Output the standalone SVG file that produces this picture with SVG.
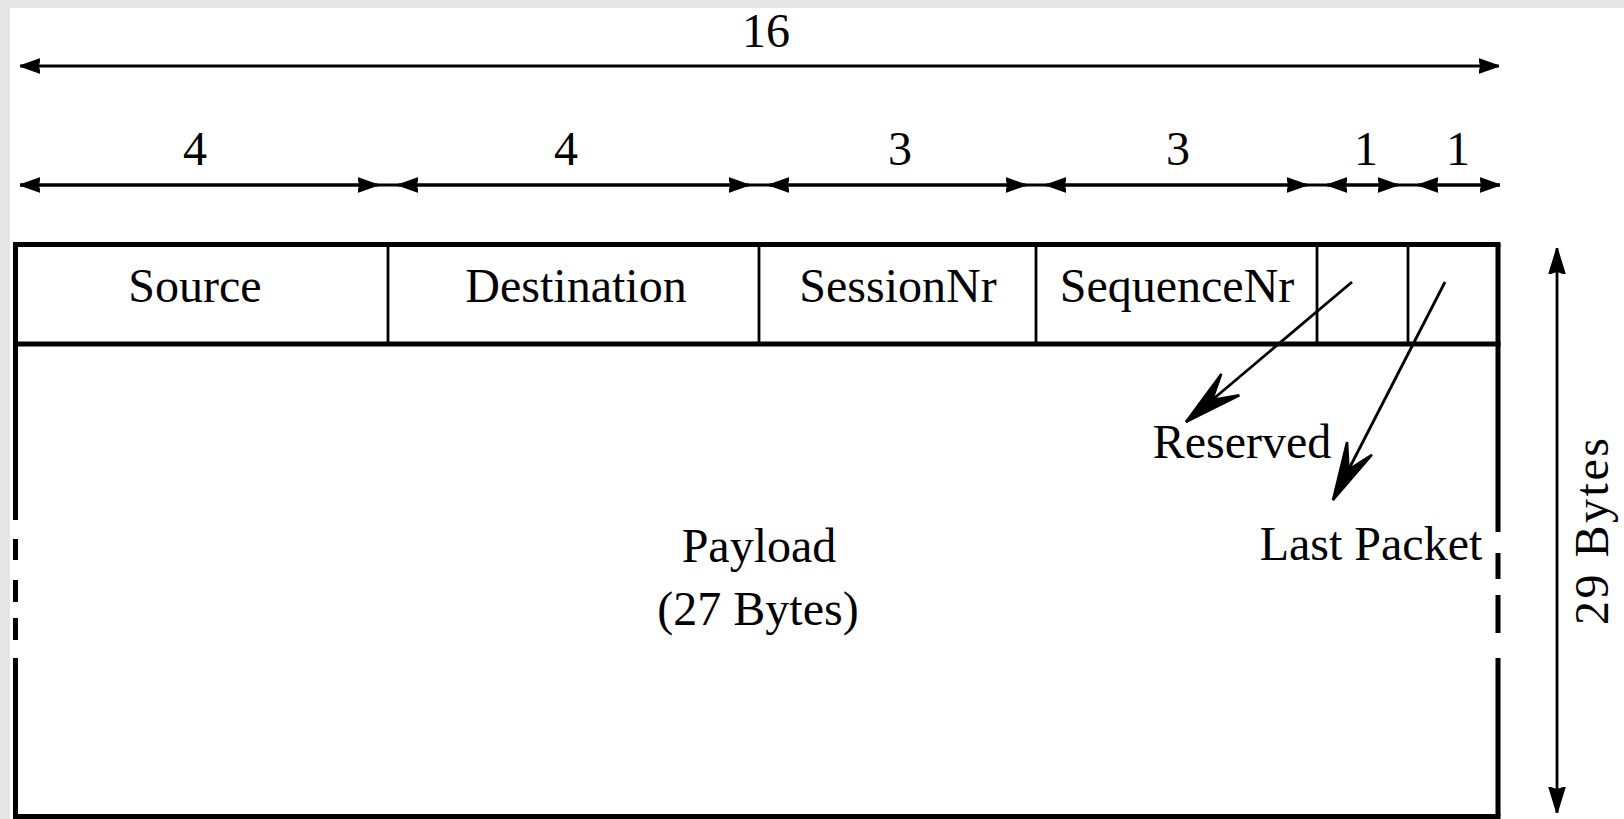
<svg xmlns="http://www.w3.org/2000/svg" width="1624" height="819" viewBox="0 0 1624 819">
  <style>
    .t { font-family: "Liberation Serif", "Times New Roman", serif; font-size: 48px; fill: #000; text-anchor: middle; }
    .thin { stroke: #000; stroke-width: 2.8; fill: none; }
    .thick { stroke: #000; stroke-width: 5; fill: none; stroke-linecap: square; }
    .dim { stroke: #000; stroke-width: 2.8; fill: none; marker-start: url(#ah); marker-end: url(#ah); }
  </style>
  <defs>
    <!-- small filled head used on dimension lines -->
    <marker id="ah" viewBox="0 0 20 16" refX="20" refY="8" markerWidth="20" markerHeight="16" markerUnits="userSpaceOnUse" orient="auto-start-reverse">
      <path d="M0,1 L20,8 L0,15 L2,8 z" fill="#000" stroke="#000" stroke-width="1.5" stroke-linejoin="round"/>
    </marker>
    <!-- head for the vertical size arrow -->
    <marker id="vh" viewBox="0 0 26 18" refX="26" refY="9" markerWidth="26" markerHeight="18" markerUnits="userSpaceOnUse" orient="auto-start-reverse">
      <path d="M0,1 L26,9 L0,17 L3,9 z" fill="#000" stroke="#000" stroke-width="1.5" stroke-linejoin="round"/>
    </marker>
    <!-- long notched head for the flag pointers -->
    <marker id="dart" viewBox="-2 -2 62 32" refX="58" refY="14" markerWidth="62" markerHeight="32" markerUnits="userSpaceOnUse" orient="auto">
      <path d="M0,0 L58,14 L0,28 L24,14 z" fill="#000" stroke="#000" stroke-width="2.5" stroke-linejoin="miter"/>
    </marker>
  </defs>

  <!-- page -->
  <rect x="0" y="0" width="1624" height="819" fill="#fff"/>
  <rect x="0" y="0" width="10" height="819" fill="#e5e5e5"/>
  <rect x="0" y="0" width="1624" height="8" fill="#e5e5e5"/>

  <!-- total width dimension -->
  <g id="dim-total">
    <line class="dim" x1="20" y1="66" x2="1499" y2="66"/>
    <text class="t" x="766" y="47">16</text>
  </g>

  <!-- per-field dimensions -->
  <g id="dim-fields">
    <line class="thin" x1="20" y1="185" x2="1500" y2="185"/>
    <line class="dim" x1="20" y1="185" x2="378" y2="185"/>
    <line class="dim" x1="398" y1="185" x2="749" y2="185"/>
    <line class="dim" x1="769" y1="185" x2="1026" y2="185"/>
    <line class="dim" x1="1046" y1="185" x2="1307" y2="185"/>
    <line class="dim" x1="1327" y1="185" x2="1398" y2="185"/>
    <line class="dim" x1="1418" y1="185" x2="1500" y2="185"/>
    <text class="t" x="195" y="165">4</text>
    <text class="t" x="566" y="165">4</text>
    <text class="t" x="900" y="165">3</text>
    <text class="t" x="1178" y="165">3</text>
    <text class="t" x="1366" y="165">1</text>
    <text class="t" x="1458" y="165">1</text>
  </g>

  <!-- packet outline, broken on both sides to show the elided payload -->
  <g id="frame">
    <line class="thick" x1="15.5" y1="244.5" x2="1498" y2="244.5"/>
    <line class="thick" x1="15.5" y1="344" x2="1498" y2="344"/>
    <line class="thick" x1="15.5" y1="816.5" x2="1498" y2="816.5"/>
    <path stroke="#000" stroke-width="5" fill="none" d="M15.5,244.5 V520 M15.5,539 V560 M15.5,580 V602 M15.5,618 V640 M15.5,658 V816.5"/>
    <path stroke="#000" stroke-width="5" fill="none" d="M1498,244.5 V532 M1498,553 V579 M1498,595 V633 M1498,658 V816.5"/>
  </g>

  <g id="source">
    <text class="t" x="195" y="302">Source</text>
  </g>
  <g id="destination">
    <line class="thin" x1="388" y1="244.5" x2="388" y2="344"/>
    <text class="t" x="576" y="302">Destination</text>
  </g>
  <g id="session-nr">
    <line class="thin" x1="759" y1="244.5" x2="759" y2="344"/>
    <text class="t" x="898" y="302">SessionNr</text>
  </g>
  <g id="sequence-nr">
    <line class="thin" x1="1036" y1="244.5" x2="1036" y2="344"/>
    <text class="t" x="1177" y="302">SequenceNr</text>
  </g>
  <g id="reserved-bit">
    <line class="thin" x1="1317" y1="244.5" x2="1317" y2="344"/>
  </g>
  <g id="last-packet-bit">
    <line class="thin" x1="1408" y1="244.5" x2="1408" y2="344"/>
  </g>

  <g id="payload">
    <text class="t" x="759" y="562">Payload</text>
    <text class="t" x="758" y="625">(27 Bytes)</text>
  </g>

  <g id="reserved-label">
    <text class="t" x="1242" y="458">Reserved</text>
  </g>
  <g id="last-packet-label">
    <text class="t" x="1371" y="560">Last Packet</text>
  </g>

  <!-- total height -->
  <g id="dim-height">
    <line stroke="#000" stroke-width="2.8" x1="1557" y1="248" x2="1557" y2="813" marker-start="url(#vh)" marker-end="url(#vh)"/>
    <text class="t" transform="translate(1608 531.5) rotate(-90)" textLength="187" lengthAdjust="spacing">29 Bytes</text>
  </g>

  <g id="connectors">
    <line class="thin" x1="1352" y1="282" x2="1186" y2="422" marker-end="url(#dart)"/>
    <line class="thin" x1="1445" y1="282" x2="1333" y2="500" marker-end="url(#dart)"/>
  </g>
</svg>
